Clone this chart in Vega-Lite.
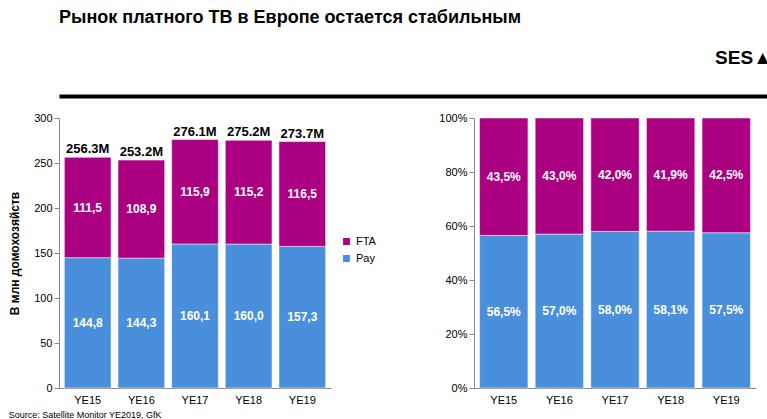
{
"$schema":"https://vega.github.io/schema/vega-lite/v6.json",
"background":"white",
"padding":{"left":8,"top":8,"right":10,"bottom":4},
"config":{"font":"Liberation Sans","view":{"stroke":null},"axis":{"labelFont":"Liberation Sans","labelFontSize":11,"labelColor":"#000","domainColor":"#888","tickColor":"#888","grid":false,"labelOverlap":false}},
"title":{"text":"Source: Satellite Monitor YE2019, GfK","orient":"bottom","anchor":"start","fontSize":9,"fontWeight":"normal","offset":6},
"datasets":{
"bars":[
{"year":"YE15","type":"Pay","value":144.8,"lab":"144,8","pct":56.5,"plab":"56,5%","o":1},
{"year":"YE15","type":"FTA","value":111.5,"lab":"111,5","pct":43.5,"plab":"43,5%","o":2},
{"year":"YE16","type":"Pay","value":144.3,"lab":"144,3","pct":57.0,"plab":"57,0%","o":1},
{"year":"YE16","type":"FTA","value":108.9,"lab":"108,9","pct":43.0,"plab":"43,0%","o":2},
{"year":"YE17","type":"Pay","value":160.1,"lab":"160,1","pct":58.0,"plab":"58,0%","o":1},
{"year":"YE17","type":"FTA","value":115.9,"lab":"115,9","pct":42.0,"plab":"42,0%","o":2},
{"year":"YE18","type":"Pay","value":160.0,"lab":"160,0","pct":58.1,"plab":"58,1%","o":1},
{"year":"YE18","type":"FTA","value":115.2,"lab":"115,2","pct":41.9,"plab":"41,9%","o":2},
{"year":"YE19","type":"Pay","value":157.3,"lab":"157,3","pct":57.5,"plab":"57,5%","o":1},
{"year":"YE19","type":"FTA","value":116.5,"lab":"116,5","pct":42.5,"plab":"42,5%","o":2}],
"totals":[
{"year":"YE15","total":256.3,"lab":"256.3M"},
{"year":"YE16","total":253.2,"lab":"253.2M"},
{"year":"YE17","total":276.1,"lab":"276.1M"},
{"year":"YE18","total":275.2,"lab":"275.2M"},
{"year":"YE19","total":273.7,"lab":"273.7M"}],
"hdr":[{"x":0.97,"t":"SES▲"}]
},
"vconcat":[
{"width":735,"height":1,
 "title":{"text":"Рынок платного ТВ в Европе остается стабильным","anchor":"start","fontSize":18,"fontWeight":"bold","offset":22},
 "data":{"name":"hdr"},
 "mark":{"type":"text","fontSize":19,"fontWeight":"bold","dy":-38,"align":"right"},
 "encoding":{"x":{"field":"x","type":"quantitative","scale":{"domain":[0,1]},"axis":{"title":null,"labels":false,"ticks":false,"domainColor":"#000","domainWidth":4,"offset":0}},"text":{"field":"t"}}},
{"hconcat":[
{"width":272,"height":270,
 "layer":[
 {"data":{"name":"bars"},"mark":{"type":"bar","stroke":"white","strokeWidth":0.5},
  "encoding":{"x":{"field":"year","type":"nominal","scale":{"paddingInner":0.13,"paddingOuter":0.1},"axis":{"title":null,"labelAngle":0,"ticks":false,"labelPadding":6}},
   "y":{"field":"value","type":"quantitative","stack":"zero","scale":{"domain":[0,300]},"axis":{"title":"В млн домохозяйств","titleFontSize":12,"titleFontWeight":"bold","values":[0,50,100,150,200,250,300],"titlePadding":12}},
   "color":{"field":"type","type":"nominal","scale":{"domain":["FTA","Pay"],"range":["#ab0082","#4a8fdb"]},"legend":{"title":null,"orient":"none","legendX":282,"legendY":118,"symbolType":"square","labelFontSize":11,"symbolSize":70}},
   "order":{"field":"o"}}},
 {"data":{"name":"bars"},
  "transform":[{"stack":"value","groupby":["year"],"sort":[{"field":"o"}],"as":["v0","v1"]},{"calculate":"(datum.v0+datum.v1)/2","as":"mid"}],
  "mark":{"type":"text","color":"white","fontWeight":"bold","fontSize":12},
  "encoding":{"x":{"field":"year","type":"nominal"},"y":{"field":"mid","type":"quantitative"},"text":{"field":"lab"}}},
 {"data":{"name":"totals"},"mark":{"type":"text","fontWeight":"bold","fontSize":13,"dy":-8},
  "encoding":{"x":{"field":"year","type":"nominal"},"y":{"field":"total","type":"quantitative"},"text":{"field":"lab"}}}
 ]},
{"width":282,"height":270,
 "layer":[
 {"data":{"name":"bars"},"mark":{"type":"bar","stroke":"white","strokeWidth":0.5},
  "encoding":{"x":{"field":"year","type":"nominal","scale":{"paddingInner":0.13,"paddingOuter":0.1},"axis":{"title":null,"labelAngle":0,"ticks":false,"labelPadding":6}},
   "y":{"field":"pct","type":"quantitative","stack":"zero","scale":{"domain":[0,100]},"axis":{"title":null,"values":[0,10,20,30,40,50,60,70,80,90,100],"labelExpr":"datum.value+'%'"}},
   "color":{"field":"type","type":"nominal","scale":{"domain":["FTA","Pay"],"range":["#ab0082","#4a8fdb"]},"legend":null},
   "order":{"field":"o"}}},
 {"data":{"name":"bars"},
  "transform":[{"stack":"pct","groupby":["year"],"sort":[{"field":"o"}],"as":["p0","p1"]},{"calculate":"(datum.p0+datum.p1)/2","as":"mid"}],
  "mark":{"type":"text","color":"white","fontWeight":"bold","fontSize":12},
  "encoding":{"x":{"field":"year","type":"nominal"},"y":{"field":"mid","type":"quantitative"},"text":{"field":"plab"}}}
 ]}
],"spacing":62,"resolve":{"scale":{"color":"independent"}}}
],"spacing":16
}
